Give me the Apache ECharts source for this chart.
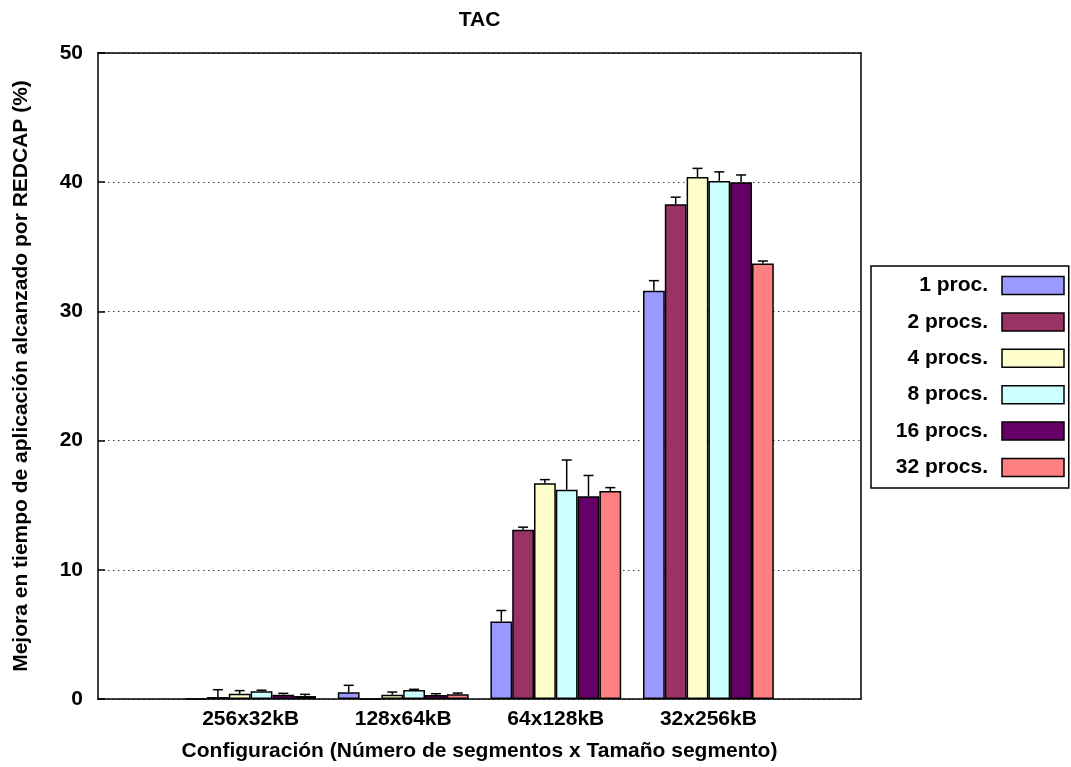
<!DOCTYPE html>
<html>
<head>
<meta charset="utf-8">
<script src="https://cdn.jsdelivr.net/npm/echarts@6/dist/echarts.min.js"></script>
<style>
  html, body { margin: 0; padding: 0; background: #fff; }
  #chart { width: 1071px; height: 767px; }
</style>
</head>
<body>
<div id="chart"></div>
<script>
// Configurations on the x axis
const categories = ['256x32kB', '128x64kB', '64x128kB', '32x256kB'];
// Series (number of processes)
const seriesNames = ['1 proc.', '2 procs.', '4 procs.', '8 procs.', '16 procs.', '32 procs.'];
// Mean improvement (%) per configuration
const proc1  = [0.0, 0.52, 6.0, 31.6];
const proc2  = [0.15, 0.0, 13.1, 38.3];
const proc4  = [0.4, 0.33, 16.7, 40.4];
const proc8  = [0.6, 0.7, 16.2, 40.1];
const proc16 = [0.33, 0.31, 15.7, 40.0];
const proc32 = [0.23, 0.36, 16.1, 33.7];
// Upper error (%) per configuration
const err1  = [0.0, 0.54, 0.85, 0.78];
const err2  = [0.57, 0.0, 0.2, 0.54];
const err4  = [0.25, 0.21, 0.28, 0.67];
const err8  = [0.08, 0.05, 2.3, 0.7];
const err16 = [0.11, 0.1, 1.6, 0.56];
const err32 = [0.13, 0.1, 0.26, 0.2];
// Y axis
const yMin = 0, yMax = 50, yStep = 10;

const values = [proc1, proc2, proc4, proc8, proc16, proc32];
const errors = [err1, err2, err4, err8, err16, err32];
const colors = ['#9999ff', '#993366', '#ffffcc', '#ccffff', '#660066', '#ff8080'];

const FONT = '"Liberation Sans", Arial, Helvetica, sans-serif';
const FS = 21;
const BAR_W = 21.8;

// padded category list: one empty slot on each side of the groups
const xData = [''].concat(categories, ['']);

const barSeries = seriesNames.map((name, k) => ({
  name: name,
  type: 'bar',
  xAxisIndex: 0,
  yAxisIndex: 0,
  barWidth: BAR_W,
  barGap: '0%',
  data: ['-'].concat(values[k], ['-']),
  itemStyle: { color: colors[k], borderColor: '#000', borderWidth: 1.5 },
  z: 2,
  animation: false
}));

const errSeries = seriesNames.map((name, k) => ({
  name: 'err-' + name,
  type: 'custom',
  xAxisIndex: 0,
  yAxisIndex: 0,
  z: 3,
  silent: true,
  animation: false,
  data: values[k].map((v, i) => [i + 1, v, errors[k][i]]),
  renderItem: function (params, api) {
    const x = api.value(0), v = api.value(1), e = api.value(2);
    if (!e) return null;
    const p0 = api.coord([x, v]);
    const p1 = api.coord([x, v + e]);
    const cx = p0[0] + (k - 2.5) * BAR_W;
    const st = { stroke: '#000', lineWidth: 1.5 };
    return {
      type: 'group',
      children: [
        { type: 'line', shape: { x1: cx, y1: p0[1], x2: cx, y2: p1[1] }, style: st },
        { type: 'line', shape: { x1: cx - 5, y1: p1[1], x2: cx + 5, y2: p1[1] }, style: st }
      ]
    };
  }
}));

const chart = echarts.init(document.getElementById('chart'), null, { renderer: 'canvas' });
chart.setOption({
  backgroundColor: '#ffffff',
  animation: false,
  textStyle: { fontFamily: FONT },
  title: {
    text: 'TAC',
    left: 479.5,
    top: 10,
    textAlign: 'center',
    padding: 0,
    textStyle: { fontFamily: FONT, fontSize: FS, fontWeight: 'bold', color: '#000' }
  },
  grid: { left: 98, right: 210, top: 53, bottom: 68, containLabel: false },
  legend: {
    data: seriesNames,
    orient: 'vertical',
    align: 'right',
    left: 871,
    top: 266,
    padding: [9, 4, 10, 17],
    itemWidth: 62,
    itemHeight: 18,
    itemGap: 15.4,
    icon: 'rect',
    borderColor: '#000',
    borderWidth: 1.5,
    selectedMode: false,
    itemStyle: { borderColor: '#000', borderWidth: 1.5 },
    textStyle: {
      fontFamily: FONT, fontSize: FS, fontWeight: 'bold', color: '#000',
      width: 100, align: 'right', lineHeight: 18, padding: [0, 9, 0, 0]
    }
  },
  xAxis: [{
    type: 'category',
    data: xData,
    boundaryGap: false,
    name: 'Configuración (Número de segmentos x Tamaño segmento)',
    nameLocation: 'middle',
    nameGap: 42,
    nameTextStyle: { fontFamily: FONT, fontSize: FS, fontWeight: 'bold', color: '#000' },
    axisLine: { show: true, lineStyle: { color: '#000', width: 1.5 } },
    axisTick: { show: false },
    axisLabel: {
      interval: 0, margin: 10,
      fontFamily: FONT, fontSize: FS, fontWeight: 'bold', color: '#000'
    },
    splitLine: { show: false }
  }, {
    type: 'category',
    data: xData,
    boundaryGap: false,
    position: 'top',
    axisLine: { show: true, onZero: false, lineStyle: { color: '#000', width: 1.5 } },
    axisTick: { show: false },
    axisLabel: { show: false },
    splitLine: { show: false }
  }],
  yAxis: [{
    type: 'value',
    min: yMin, max: yMax, interval: yStep,
    name: 'Mejora en tiempo de aplicación alcanzado por REDCAP (%)',
    nameLocation: 'middle',
    nameGap: 66,
    nameTextStyle: { fontFamily: FONT, fontSize: FS, fontWeight: 'bold', color: '#000' },
    axisLine: { show: true, lineStyle: { color: '#000', width: 1.5 } },
    axisTick: { show: true, inside: true, length: 7, lineStyle: { color: '#000', width: 1.5 } },
    axisLabel: { margin: 15, fontFamily: FONT, fontSize: FS, fontWeight: 'bold', color: '#000' },
    splitLine: { show: true, lineStyle: { color: '#444', width: 1.2, type: [1.5, 3.5] } }
  }, {
    type: 'value',
    min: yMin, max: yMax, interval: yStep,
    position: 'right',
    axisLine: { show: true, lineStyle: { color: '#000', width: 1.5 } },
    axisTick: { show: false },
    axisLabel: { show: false },
    splitLine: { show: false }
  }],
  series: barSeries.concat(errSeries)
});
</script>
</body>
</html>
